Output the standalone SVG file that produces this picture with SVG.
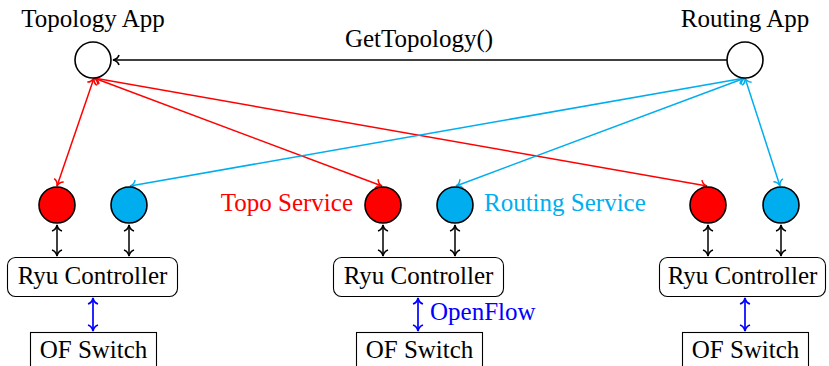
<svg xmlns="http://www.w3.org/2000/svg" width="829" height="366" viewBox="0 0 829 366" font-family="'Liberation Serif', 'Times New Roman', 'DejaVu Serif', serif" font-size="25">
<style>
text{font-family:'Liberation Serif','Times New Roman','DejaVu Serif',serif;font-size:25px;fill:#000}
.app{fill:#fff;stroke:#000;stroke-width:1.6}
.red{fill:#ff0000;stroke:#000;stroke-width:1.6}
.cyan{fill:#00aeef;stroke:#000;stroke-width:1.6}
.box{fill:#fff;stroke:#000;stroke-width:1.1}
.lk{stroke:#000;stroke-width:1.7;fill:none}
.lr{stroke:#ff0000;stroke-width:1.5;fill:none;marker-start:url(#ar);marker-end:url(#ar)}
.lc{stroke:#00aeef;stroke-width:1.5;fill:none;marker-start:url(#ac);marker-end:url(#ac)}
.lb{stroke:#0000ff;stroke-width:1.7;fill:none;marker-start:url(#ab);marker-end:url(#ab)}
.lkk{stroke:#000;stroke-width:1.5;fill:none;marker-start:url(#ak);marker-end:url(#ak)}
</style>
<defs>
<marker id="ak" viewBox="-8 -6 10 12" refX="0" refY="0" markerWidth="10" markerHeight="12" markerUnits="userSpaceOnUse" orient="auto-start-reverse"><path d="M-6,-5 C-5,-2 -2,-0.4 0,0 C-2,0.4 -5,2 -6,5" fill="none" stroke="#000" stroke-width="1.5"/></marker>
<marker id="ar" viewBox="-8 -6 10 12" refX="0" refY="0" markerWidth="10" markerHeight="12" markerUnits="userSpaceOnUse" orient="auto-start-reverse"><path d="M-6,-5 C-5,-2 -2,-0.4 0,0 C-2,0.4 -5,2 -6,5" fill="none" stroke="#ff0000" stroke-width="1.5"/></marker>
<marker id="ac" viewBox="-8 -6 10 12" refX="0" refY="0" markerWidth="10" markerHeight="12" markerUnits="userSpaceOnUse" orient="auto-start-reverse"><path d="M-6,-5 C-5,-2 -2,-0.4 0,0 C-2,0.4 -5,2 -6,5" fill="none" stroke="#00aeef" stroke-width="1.5"/></marker>
<marker id="ab" viewBox="-8 -6 10 12" refX="0" refY="0" markerWidth="10" markerHeight="12" markerUnits="userSpaceOnUse" orient="auto-start-reverse"><path d="M-6,-5 C-5,-2 -2,-0.4 0,0 C-2,0.4 -5,2 -6,5" fill="none" stroke="#0000ff" stroke-width="1.7"/></marker>
<marker id="akk" viewBox="-8 -6 10 12" refX="0" refY="0" markerWidth="10" markerHeight="12" markerUnits="userSpaceOnUse" orient="auto"><path d="M-6,-5 C-5,-2 -2,-0.4 0,0 C-2,0.4 -5,2 -6,5" fill="none" stroke="#000" stroke-width="1.7"/></marker>
</defs>

<g id="connectors">
<line class="lk" x1="727" y1="60" x2="113" y2="60" marker-end="url(#akk)"/>
<text x="419" y="47" text-anchor="middle">GetTopology()</text>
<line class="lr" x1="94" y1="78" x2="57" y2="186"/>
<line class="lr" x1="94" y1="78" x2="382" y2="186"/>
<line class="lr" x1="94" y1="78" x2="707" y2="186"/>
<line class="lc" x1="745" y1="78" x2="130" y2="186"/>
<line class="lc" x1="745" y1="78" x2="456" y2="186"/>
<line class="lc" x1="745" y1="78" x2="780" y2="186"/>
<line class="lkk" x1="57" y1="225" x2="57" y2="256"/>
<line class="lkk" x1="129" y1="225" x2="129" y2="256"/>
<line class="lkk" x1="383" y1="225" x2="383" y2="256"/>
<line class="lkk" x1="455" y1="225" x2="455" y2="256"/>
<line class="lkk" x1="708" y1="225" x2="708" y2="256"/>
<line class="lkk" x1="781" y1="225" x2="781" y2="256"/>
<line class="lb" x1="93" y1="298" x2="93" y2="331"/>
<line class="lb" x1="418" y1="298" x2="418" y2="331"/>
<line class="lb" x1="745" y1="298" x2="745" y2="331"/>
<text x="430" y="320" fill="#0000ff" style="fill:#0000ff">OpenFlow</text>
</g>

<g id="topology-app">
<circle class="app" cx="93" cy="60" r="18"/>
<text x="93" y="27" text-anchor="middle">Topology App</text>
</g>
<g id="routing-app">
<circle class="app" cx="745" cy="60" r="18"/>
<text x="745" y="27" text-anchor="middle">Routing App</text>
</g>

<g id="topo-service-1"><circle class="red" cx="57" cy="205" r="18"/></g>
<g id="routing-service-1"><circle class="cyan" cx="129" cy="205" r="18"/></g>
<g id="topo-service-2">
<circle class="red" cx="383" cy="205" r="18"/>
<text x="353" y="211" text-anchor="end" fill="#ff0000" style="fill:#ff0000">Topo Service</text>
</g>
<g id="routing-service-2">
<circle class="cyan" cx="455" cy="205" r="18"/>
<text x="484" y="211" fill="#00aeef" style="fill:#00aeef">Routing Service</text>
</g>
<g id="topo-service-3"><circle class="red" cx="708" cy="205" r="18"/></g>
<g id="routing-service-3"><circle class="cyan" cx="781" cy="205" r="18"/></g>

<g id="ryu-1">
<rect class="box" x="7.5" y="257.5" width="170" height="39" rx="8"/>
<text x="92.5" y="284" text-anchor="middle">Ryu Controller</text>
</g>
<g id="ryu-2">
<rect class="box" x="333.5" y="257.5" width="170" height="39" rx="8"/>
<text x="418.5" y="284" text-anchor="middle">Ryu Controller</text>
</g>
<g id="ryu-3">
<rect class="box" x="659.5" y="257.5" width="166" height="39" rx="8"/>
<text x="742.5" y="284" text-anchor="middle">Ryu Controller</text>
</g>

<g id="switch-1">
<rect class="box" x="30.5" y="332.5" width="126" height="40"/>
<text x="93.5" y="358" text-anchor="middle">OF Switch</text>
</g>
<g id="switch-2">
<rect class="box" x="356.5" y="332.5" width="126" height="40"/>
<text x="419.5" y="358" text-anchor="middle">OF Switch</text>
</g>
<g id="switch-3">
<rect class="box" x="682.5" y="332.5" width="126" height="40"/>
<text x="745.5" y="358" text-anchor="middle">OF Switch</text>
</g>
</svg>
